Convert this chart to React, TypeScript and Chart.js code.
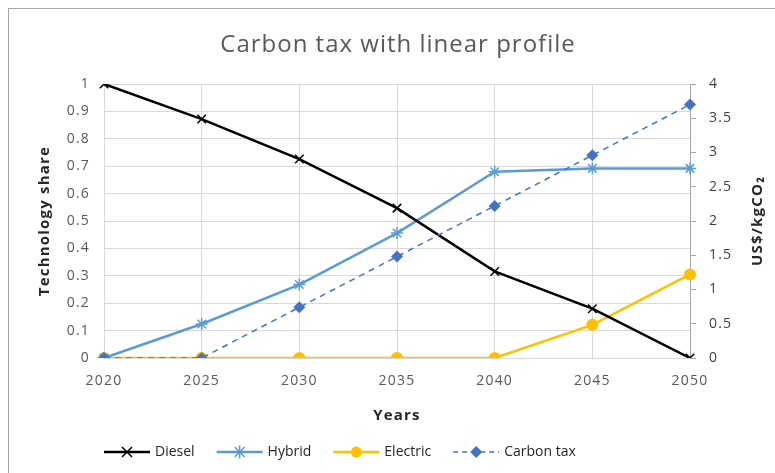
import { useEffect, useRef } from 'react';
import { Chart, registerables } from 'chart.js';

Chart.register(...registerables);

const chartTitle = 'Carbon tax with linear profile';
const years = ['2020', '2025', '2030', '2035', '2040', '2045', '2050'];
const diesel = [1, 0.872, 0.726, 0.547, 0.316, 0.18, 0];
const hybrid = [0, 0.124, 0.268, 0.456, 0.68, 0.692, 0.692];
const electric = [0, 0, 0, 0, 0, 0.121, 0.305];
const carbonTax = [0, 0, 0.74, 1.48, 2.22, 2.96, 3.7];

const FONT = '"Open Sans", "Noto Sans", sans-serif';
const GRID = '#d9d9d9';
const TICK = '#595959';

type Marker = 'x' | 'star' | 'circle' | 'diamond';

function drawMarker(ctx: CanvasRenderingContext2D, kind: Marker, x: number, y: number, color: string) {
  ctx.save();
  ctx.strokeStyle = color;
  ctx.fillStyle = color;
  ctx.lineWidth = 1.5;
  ctx.beginPath();
  if (kind === 'x' || kind === 'star') {
    const r = 5;
    ctx.moveTo(x - r, y - r);
    ctx.lineTo(x + r, y + r);
    ctx.moveTo(x - r, y + r);
    ctx.lineTo(x + r, y - r);
    if (kind === 'star') {
      ctx.moveTo(x, y - r * 1.3);
      ctx.lineTo(x, y + r * 1.3);
    }
    ctx.stroke();
  } else if (kind === 'circle') {
    ctx.arc(x, y, 5.5, 0, Math.PI * 2);
    ctx.fill();
  } else {
    const r = 6;
    ctx.moveTo(x, y - r);
    ctx.lineTo(x + r, y);
    ctx.lineTo(x, y + r);
    ctx.lineTo(x - r, y);
    ctx.closePath();
    ctx.fill();
  }
  ctx.restore();
}

const formatTick = (v: number | string) => String(Number(Number(v).toFixed(2)));

export default function App() {
  const ref = useRef<HTMLCanvasElement>(null);

  useEffect(() => {
    if (!ref.current) return;

    const legendItems: { label: string; color: string; width: number; dash: number[]; marker: Marker }[] = [
      { label: 'Diesel', color: '#000000', width: 2.5, dash: [], marker: 'x' },
      { label: 'Hybrid', color: '#5B9BD5', width: 2.5, dash: [], marker: 'star' },
      { label: 'Electric', color: '#FFC000', width: 2.5, dash: [], marker: 'circle' },
      { label: 'Carbon tax', color: '#4472C4', width: 1.5, dash: [5, 4], marker: 'diamond' },
    ];

    const extras = {
      id: 'extras',
      beforeDraw(chart: Chart) {
        // slightly spaced lettering for the axes
        (chart.ctx as any).letterSpacing = '1.2px';
      },
      beforeDatasetsDraw(chart: Chart) {
        (chart.ctx as any).letterSpacing = '0px';
      },
      afterDraw(chart: Chart) {
        const ctx = chart.ctx;
        const area = chart.chartArea;

        // chart title, centred on the framed panel
        ctx.save();
        (ctx as any).letterSpacing = '1px';
        ctx.font = `24px ${FONT}`;
        ctx.fillStyle = '#595959';
        ctx.textAlign = 'center';
        ctx.textBaseline = 'middle';
        ctx.fillText(chartTitle, 398, 45);
        ctx.restore();

        // right axis title, reading bottom to top
        ctx.save();
        (ctx as any).letterSpacing = '1.2px';
        ctx.translate(758, (area.top + area.bottom) / 2);
        ctx.rotate(-Math.PI / 2);
        ctx.font = `bold 15px ${FONT}`;
        ctx.fillStyle = '#262626';
        ctx.textAlign = 'center';
        ctx.textBaseline = 'middle';
        ctx.fillText('US$/kgCO₂', 0, 0);
        ctx.restore();

        // legend: line sample with marker, then label
        ctx.save();
        (ctx as any).letterSpacing = '0px';
        ctx.font = `14px ${FONT}`;
        ctx.textBaseline = 'middle';
        ctx.textAlign = 'left';
        const y = 452;
        let x = 104;
        for (const it of legendItems) {
          ctx.save();
          ctx.strokeStyle = it.color;
          ctx.lineWidth = it.width;
          ctx.setLineDash(it.dash);
          ctx.beginPath();
          ctx.moveTo(x, y);
          ctx.lineTo(x + 46, y);
          ctx.stroke();
          ctx.restore();
          drawMarker(ctx, it.marker, x + 23, y, it.color);
          ctx.fillStyle = '#262626';
          ctx.fillText(it.label, x + 51, y);
          x += 51 + ctx.measureText(it.label).width + 22;
        }
        ctx.restore();
      },
    };

    const chart = new Chart(ref.current, {
      type: 'line',
      data: {
        labels: years,
        datasets: [
          {
            label: 'Diesel',
            data: diesel,
            yAxisID: 'y',
            borderColor: '#000000',
            backgroundColor: '#000000',
            borderWidth: 2.5,
            pointStyle: 'crossRot',
            pointRadius: 6,
            pointBorderWidth: 1.5,
            order: 1,
          },
          {
            label: 'Hybrid',
            data: hybrid,
            yAxisID: 'y',
            borderColor: '#5B9BD5',
            backgroundColor: '#5B9BD5',
            borderWidth: 2.5,
            pointStyle: 'star',
            pointRadius: 6,
            pointBorderWidth: 1.5,
            order: 2,
          },
          {
            label: 'Electric',
            data: electric,
            yAxisID: 'y',
            borderColor: '#FFC000',
            backgroundColor: '#FFC000',
            borderWidth: 2.5,
            pointStyle: 'circle',
            pointRadius: 6,
            pointBorderWidth: 0,
            order: 3,
          },
          {
            label: 'Carbon tax',
            data: carbonTax,
            yAxisID: 'y1',
            borderColor: '#4472C4',
            backgroundColor: '#4472C4',
            borderWidth: 1.5,
            borderDash: [6, 5],
            pointStyle: 'rectRot',
            pointRadius: 6,
            pointBorderWidth: 0,
            order: 0,
          },
        ],
      },
      options: {
        responsive: false,
        animation: false,
        devicePixelRatio: 1,
        layout: { padding: { left: 0, right: 0, top: 84, bottom: 45 } },
        plugins: {
          legend: { display: false },
          tooltip: { enabled: false },
          title: { display: false },
        },
        scales: {
          x: {
            type: 'category',
            offset: false,
            grid: { color: GRID, drawTicks: false },
            border: { display: false },
            ticks: { color: TICK, font: { family: FONT, size: 14 }, padding: 15, maxRotation: 0 },
            title: {
              display: true,
              text: 'Years',
              color: '#262626',
              font: { family: FONT, size: 15, weight: 'bold' },
              padding: { top: 0, bottom: 3 },
            },
            afterFit(s: any) {
              s.height = 70;
            },
          },
          y: {
            position: 'left',
            min: 0,
            max: 1,
            grid: { color: GRID, drawTicks: false },
            border: { display: false },
            ticks: {
              stepSize: 0.1,
              color: TICK,
              font: { family: FONT, size: 14 },
              padding: 14,
              callback: formatTick,
            },
            title: {
              display: true,
              text: 'Technology share',
              color: '#262626',
              font: { family: FONT, size: 15, weight: 'bold' },
              padding: { top: 36, bottom: 0 },
            },
            afterFit(s: any) {
              s.width = 104;
            },
          },
          y1: {
            position: 'right',
            min: 0,
            max: 4,
            grid: { drawOnChartArea: false, drawTicks: true, tickLength: 6, color: '#a6a6a6' },
            border: { display: true, color: '#a6a6a6' },
            ticks: {
              stepSize: 0.5,
              color: '#404040',
              font: { family: FONT, size: 14 },
              padding: 13,
              callback: formatTick,
            },
            afterFit(s: any) {
              s.width = 85;
            },
          },
        },
      },
      plugins: [extras],
    });

    return () => chart.destroy();
  }, []);

  return (
    <div style={{ position: 'fixed', left: 0, top: 0, width: 775, height: 473, background: '#ffffff', overflow: 'hidden' }}>
      <div
        style={{
          position: 'absolute',
          left: 8,
          top: 8,
          width: 800,
          height: 500,
          borderLeft: '1px solid #a6a6a6',
          borderTop: '1px solid #a6a6a6',
        }}
      />
      <canvas ref={ref} width={775} height={473} style={{ position: 'absolute', left: 0, top: 0 }} />
    </div>
  );
}
